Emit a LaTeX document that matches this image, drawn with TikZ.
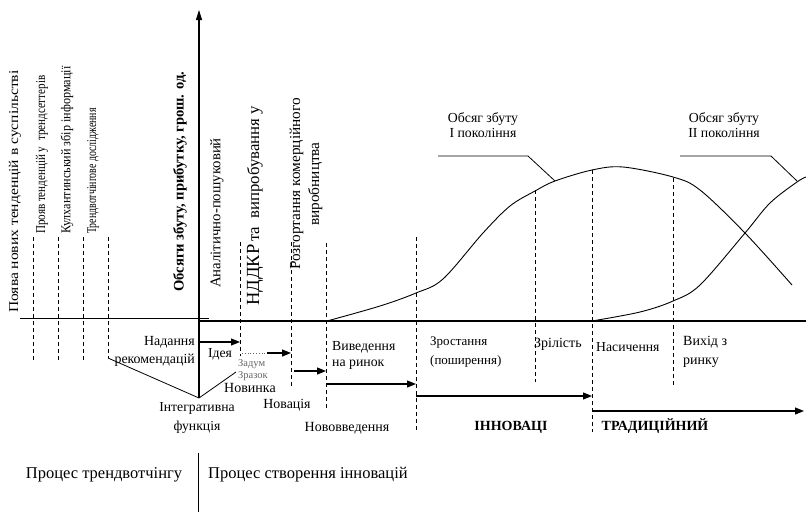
\documentclass[tikz,border=0pt]{standalone}
\usepackage{fontspec}
\setmainfont{Liberation Serif}
\usetikzlibrary{arrows.meta}
\begin{document}
\begin{tikzpicture}[x=1pt,y=-1pt,
  txt/.style={inner sep=0pt, font=\fontsize{13.7}{17}\selectfont},
  vtxt/.style={inner sep=0pt, rotate=90, anchor=west, font=\fontsize{13.5}{16}\selectfont},
  small/.style={inner sep=0pt, font=\fontsize{10.5}{11}\selectfont, text=black!60},
  big/.style={inner sep=0pt, font=\fontsize{16.5}{19}\selectfont},
  dsh/.style={dash pattern=on 4pt off 3pt, line width=0.8pt},
  ax/.style={line width=1.2pt},
  thin/.style={line width=0.8pt},
  arr/.style={line width=1.1pt, -{Triangle[length=9pt,width=7pt]}},
  crv/.style={line width=0.9pt},
]
\useasboundingbox (0,0) rectangle (806,512);

% ---------- axes ----------
\coordinate (apex) at (199,398);
\coordinate (ytop) at (199,10);
\draw[ax, -{Triangle[length=10pt,width=6pt]}] (apex) -- (ytop);
\coordinate (hl0) at (20,318);
\coordinate (hl1) at (209,318);
\draw[thin] (hl0) -- (hl1);
\coordinate (ax0) at (199,321);
\coordinate (ax1) at (806,321);
\draw[ax] (ax0) -- (ax1);

% ---------- left rotated texts ----------
\node[vtxt] (t1) at (15,313) {\scalebox{1.15}[1]{Поява нових тенденцій в суспільстві}};
\node[vtxt] (t2) at (42,234) {\scalebox{0.82}[1]{Прояв тенденцій у\ \ трендсеттерів}};
\node[vtxt] (t3) at (67,234) {\scalebox{0.9}[1]{Кулхантинський збір інформації}};
\node[vtxt] (t4) at (93,234) {\scalebox{0.73}[1]{Трендвотчінгове дослідження}};
\node[vtxt, font=\fontsize{14.6}{17}\selectfont\bfseries] (yl) at (180,292) {Обсяги збуту, прибутку, грош. од.};
\node[vtxt, font=\fontsize{14.8}{17}\selectfont] (t5) at (217,288) {Аналітично-пошуковий};
\node[vtxt, font=\fontsize{16.8}{19}\selectfont] (t6) at (255,306) {{\fontsize{18.5}{19}\selectfont НДДКР}\,та\ \ випробування у};
\node[inner sep=0pt, rotate=90, align=center, font=\fontsize{15.3}{19}\selectfont] (t7) at (306,184) {Розгортання комерційного\\виробництва};

% ---------- left dashed lines ----------
\foreach \x/\n in {33/a,58/b,83/c}{
  \coordinate (d\n0) at (\x,237);
  \coordinate (d\n1) at (\x,360);
  \draw[dsh] (d\n0) -- (d\n1);
}
\coordinate (dd0) at (108,237);
\coordinate (dd1) at (108,358);
\draw[dsh] (dd0) -- (dd1);
\coordinate (vr) at (236,372);
\draw[thin] (dd1) -- (apex) -- (vr);

% ---------- middle dashed lines ----------
\coordinate (m10) at (240,242); \coordinate (m11) at (240,356);
\coordinate (m20) at (291,242); \coordinate (m21) at (291,386);
\coordinate (m30) at (326,243); \coordinate (m31) at (326,410);
\draw[dsh] (m10) -- (m11);
\draw[dsh] (m20) -- (m21);
\draw[dsh] (m30) -- (m31);

% ---------- right dashed lines ----------
\coordinate (r10) at (416,237); \coordinate (r11) at (416,430);
\coordinate (r20) at (535,190); \coordinate (r21) at (535,382);
\coordinate (r30) at (592,170); \coordinate (r31) at (592,432);
\coordinate (r40) at (673,178); \coordinate (r41) at (673,387);
\draw[dsh] (r10) -- (r11);
\draw[dsh] (r20) -- (r21);
\draw[dsh] (r30) -- (r31);
\draw[dsh] (r40) -- (r41);

% ---------- curves ----------
\draw[crv] plot[smooth, tension=0.55] coordinates {(327,321) (380,306) (416,293) (443,279) (483,233) (510,206) (535,191) (555,181) (592,170) (623,167) (673,177) (700,190) (745,233) (792,285)};
\draw[crv] plot[smooth, tension=0.55] coordinates {(592,321) (640,312) (673,301) (700,285) (745,233) (770,203) (797,182) (806,177)};

% ---------- curve labels ----------
\node[txt, align=center, font=\fontsize{13.8}{15}\selectfont] (g1) at (483,125) {Обсяг збуту\\І покоління};
\node[txt, align=center, font=\fontsize{13.8}{15}\selectfont] (g2) at (724,125) {Обсяг збуту\\ІІ покоління};
\coordinate (l1a) at (438,156); \coordinate (l1b) at (528,156); \coordinate (l1c) at (555,181);
\coordinate (l2a) at (680,156); \coordinate (l2b) at (771,156); \coordinate (l2c) at (797,181);
\draw[thin] (l1a) -- (l1b) -- (l1c);
\draw[thin] (l2a) -- (l2b) -- (l2c);

% ---------- labels below axis ----------
\node[txt, align=right, anchor=east, font=\fontsize{13.9}{18}\selectfont] (nad) at (195,351) {Надання\\рекомендацій};
\node[txt] (idea) at (220,354) {Ідея};
\node[small, anchor=west] (zad) at (238,364) {Задум};
\node[small, anchor=west] (zr) at (238,376) {Зразок};
\node[txt, font=\fontsize{14}{17}\selectfont] (nov) at (250,388) {Новинка};
\node[txt, font=\fontsize{13.9}{17}\selectfont] (novac) at (287,405) {Новація};
\node[txt, align=center, font=\fontsize{13.7}{19}\selectfont] (integ) at (197,418) {Інтегративна\\функція};
\node[txt, font=\fontsize{14}{17}\selectfont] (nvv) at (347,428) {Нововведення};
\node[txt, align=left, anchor=west, font=\fontsize{13.8}{16}\selectfont] (vyv) at (332,355) {Виведення\\на ринок};
\node[txt, align=left, anchor=west, font=\fontsize{13}{19}\selectfont] (zros) at (430,352) {Зростання\\(поширення)};
\node[txt, anchor=west, font=\fontsize{14}{17}\selectfont] (zril) at (534,344) {Зрілість};
\node[txt, anchor=west] (nas) at (596,347) {Насичення};
\node[txt, align=left, anchor=west, font=\fontsize{14}{19}\selectfont] (vyh) at (683,352) {Вихід з\\ринку};
\node[txt, font=\fontsize{14}{17}\selectfont\bfseries] (inn) at (511,427) {ІННОВАЦІ};
\node[txt, font=\fontsize{14}{17}\selectfont\bfseries] (trad) at (655,426) {ТРАДИЦІЙНИЙ};

% ---------- stage arrows ----------
\coordinate (a1s) at (199,342); \coordinate (a1e) at (240,342);
\draw[arr] (a1s) -- (a1e);
\coordinate (dt0) at (242,353); \coordinate (dt1) at (265,353);
\draw[dotted, thin, black!60] (dt0) -- (dt1);
\coordinate (a2s) at (267,353); \coordinate (a2e) at (291,353);
\draw[arr] (a2s) -- (a2e);
\coordinate (a3s) at (294,371); \coordinate (a3e) at (326,371);
\draw[arr] (a3s) -- (a3e);
\coordinate (a4s) at (327,384); \coordinate (a4e) at (416,384);
\draw[arr] (a4s) -- (a4e);
\coordinate (a5s) at (416,396); \coordinate (a5e) at (592,396);
\draw[arr] (a5s) -- (a5e);
\coordinate (a6s) at (592,411); \coordinate (a6e) at (804,411);
\draw[arr] (a6s) -- (a6e);

% ---------- bottom ----------
\node[big] (p1) at (104,475) {Процес трендвотчінгу};
\node[big, anchor=west] (p2) at (208,475) {Процес створення інновацій};
\coordinate (b0) at (198,453); \coordinate (b1) at (198,512);
\draw[thin] (b0) -- (b1);
\end{tikzpicture}
\end{document}
